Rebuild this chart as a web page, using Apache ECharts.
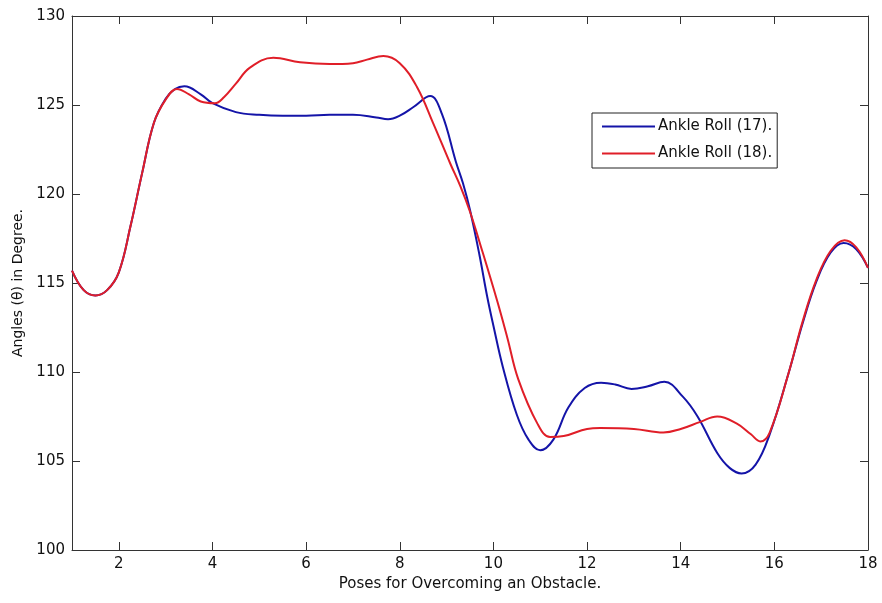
<!DOCTYPE html>
<html>
<head>
<meta charset="utf-8">
<script src="https://cdn.jsdelivr.net/npm/echarts@6/dist/echarts.min.js"></script>
<style>
  html, body { margin: 0; padding: 0; background: #fff; }
  #chart { width: 882px; height: 603px; }
</style>
</head>
<body>
<div id="chart"></div>
<script>
// Pose positions and joint angles (degrees)
const poses17 = [1.0, 1.25, 1.5, 1.75, 2.0, 2.25, 2.5, 2.75, 3.0, 3.2, 3.4, 3.75, 4.0, 4.5, 5.0, 5.5, 6.0, 6.5, 7.0, 7.5, 7.75, 8.0, 8.3, 8.65, 8.9, 9.2, 9.35, 9.5, 9.7, 9.87, 10.0, 10.2, 10.5, 10.75, 11.0, 11.28, 11.6, 11.95, 12.3, 12.6, 12.95, 13.3, 13.65, 14.05, 14.36, 14.78, 15.05, 15.3, 15.6, 15.9, 16.3, 16.6, 16.9, 17.2, 17.48, 17.75, 18.0];
const ankleRoll17 = [115.7, 114.6, 114.3, 114.6, 115.6, 118.2, 121.2, 124.0, 125.35, 125.9, 126.05, 125.6, 125.1, 124.6, 124.45, 124.4, 124.4, 124.45, 124.45, 124.3, 124.2, 124.4, 124.9, 125.5, 124.5, 121.8, 120.6, 119.1, 116.6, 114.2, 112.6, 110.3, 107.6, 106.2, 105.6, 106.2, 108.0, 109.1, 109.4, 109.3, 109.05, 109.2, 109.45, 108.6, 107.5, 105.45, 104.6, 104.3, 104.8, 106.5, 109.9, 112.7, 115.1, 116.7, 117.25, 116.9, 115.85];

const poses18 = [1.0, 1.25, 1.5, 1.75, 2.0, 2.25, 2.5, 2.75, 3.0, 3.24, 3.5, 3.75, 4.05, 4.25, 4.5, 4.8, 5.3, 5.87, 6.5, 7.0, 7.3, 7.65, 8.0, 8.37, 8.71, 9.08, 9.3, 9.5, 9.75, 10.08, 10.3, 10.53, 10.94, 11.21, 11.5, 12.0, 12.28, 13.0, 13.63, 14.0, 14.42, 14.78, 15.2, 15.5, 15.7, 15.9, 16.3, 16.6, 16.9, 17.2, 17.5, 17.75, 18.0];
const ankleRoll18 = [115.7, 114.6, 114.3, 114.6, 115.6, 118.2, 121.2, 124.0, 125.3, 125.9, 125.6, 125.2, 125.1, 125.45, 126.2, 127.1, 127.65, 127.4, 127.3, 127.35, 127.55, 127.75, 127.35, 126.0, 124.0, 121.7, 120.4, 119.0, 116.9, 114.0, 111.9, 109.6, 107.1, 106.35, 106.4, 106.8, 106.85, 106.8, 106.6, 106.8, 107.2, 107.5, 107.1, 106.5, 106.1, 106.6, 109.9, 112.8, 115.2, 116.8, 117.4, 117.0, 115.85];

const seriesNames = ['Ankle Roll (17).', 'Ankle Roll (18).'];
const xTicks = [2, 4, 6, 8, 10, 12, 14, 16, 18];

const pair = (xs, ys) => xs.map((x, i) => [x, ys[i]]);

const axisColor = '#333333';
const font = 'DejaVu Sans, Liberation Sans, Arial, sans-serif';

const tickInside = { show: true, inside: true, length: 8, lineStyle: { color: axisColor, width: 1 } };

const chart = echarts.init(document.getElementById('chart'), null, { renderer: 'canvas' });
chart.setOption({
  animation: false,
  backgroundColor: '#ffffff',
  grid: { left: 72, right: 14, top: 16, bottom: 53, containLabel: false },
  legend: {
    orient: 'vertical',
    left: 592,
    top: 113,
    data: seriesNames,
    itemWidth: 53,
    itemHeight: 14,
    itemGap: 12,
    padding: [6, 5, 7, 10],
    borderColor: '#222222',
    borderWidth: 1,
    backgroundColor: '#ffffff',
    icon: 'path://M0,6 L53,6 L53,8 L0,8 Z',
    textStyle: { fontFamily: font, fontSize: 15, color: '#111111', padding: [0, 0, 0, -2] }
  },
  xAxis: [{
    type: 'value', min: 1, max: 18,
    name: 'Poses for Overcoming an Obstacle.',
    nameLocation: 'middle', nameGap: 25,
    nameTextStyle: { fontFamily: font, fontSize: 15, color: '#111111' },
    axisLine: { show: true, lineStyle: { color: axisColor, width: 1 } },
    axisTick: Object.assign({}, tickInside, { customValues: xTicks }),
    splitLine: { show: false },
    axisLabel: {
      fontFamily: font, fontSize: 15, color: '#111111', margin: 7,
      customValues: xTicks,
      formatter: v => String(v)
    }
  }, {
    type: 'value', min: 1, max: 18, position: 'top',
    axisLine: { show: true, lineStyle: { color: axisColor, width: 1 } },
    axisTick: Object.assign({}, tickInside, { customValues: xTicks }),
    axisLabel: { show: false, customValues: xTicks },
    splitLine: { show: false }
  }],
  yAxis: [{
    type: 'value', min: 100, max: 130, interval: 5,
    name: 'Angles (θ) in Degree.',
    nameLocation: 'middle', nameGap: 45, nameRotate: 90,
    nameTextStyle: { fontFamily: font, fontSize: 14, color: '#111111' },
    axisLine: { show: true, lineStyle: { color: axisColor, width: 1 } },
    axisTick: tickInside,
    splitLine: { show: false },
    axisLabel: { fontFamily: font, fontSize: 15, color: '#111111', margin: 7 }
  }, {
    type: 'value', min: 100, max: 130, interval: 5, position: 'right',
    axisLine: { show: true, lineStyle: { color: axisColor, width: 1 } },
    axisTick: tickInside,
    axisLabel: { show: false },
    splitLine: { show: false }
  }],
  series: [{
    name: seriesNames[0],
    type: 'line',
    data: pair(poses17, ankleRoll17),
    smooth: 0.4,
    symbol: 'none',
    color: '#1414a8',
    lineStyle: { width: 2, color: '#1414a8' },
    z: 2
  }, {
    name: seriesNames[1],
    type: 'line',
    data: pair(poses18, ankleRoll18),
    smooth: 0.4,
    symbol: 'none',
    color: '#e01e28',
    lineStyle: { width: 2, color: '#e01e28' },
    z: 3
  }]
});
</script>
</body>
</html>
